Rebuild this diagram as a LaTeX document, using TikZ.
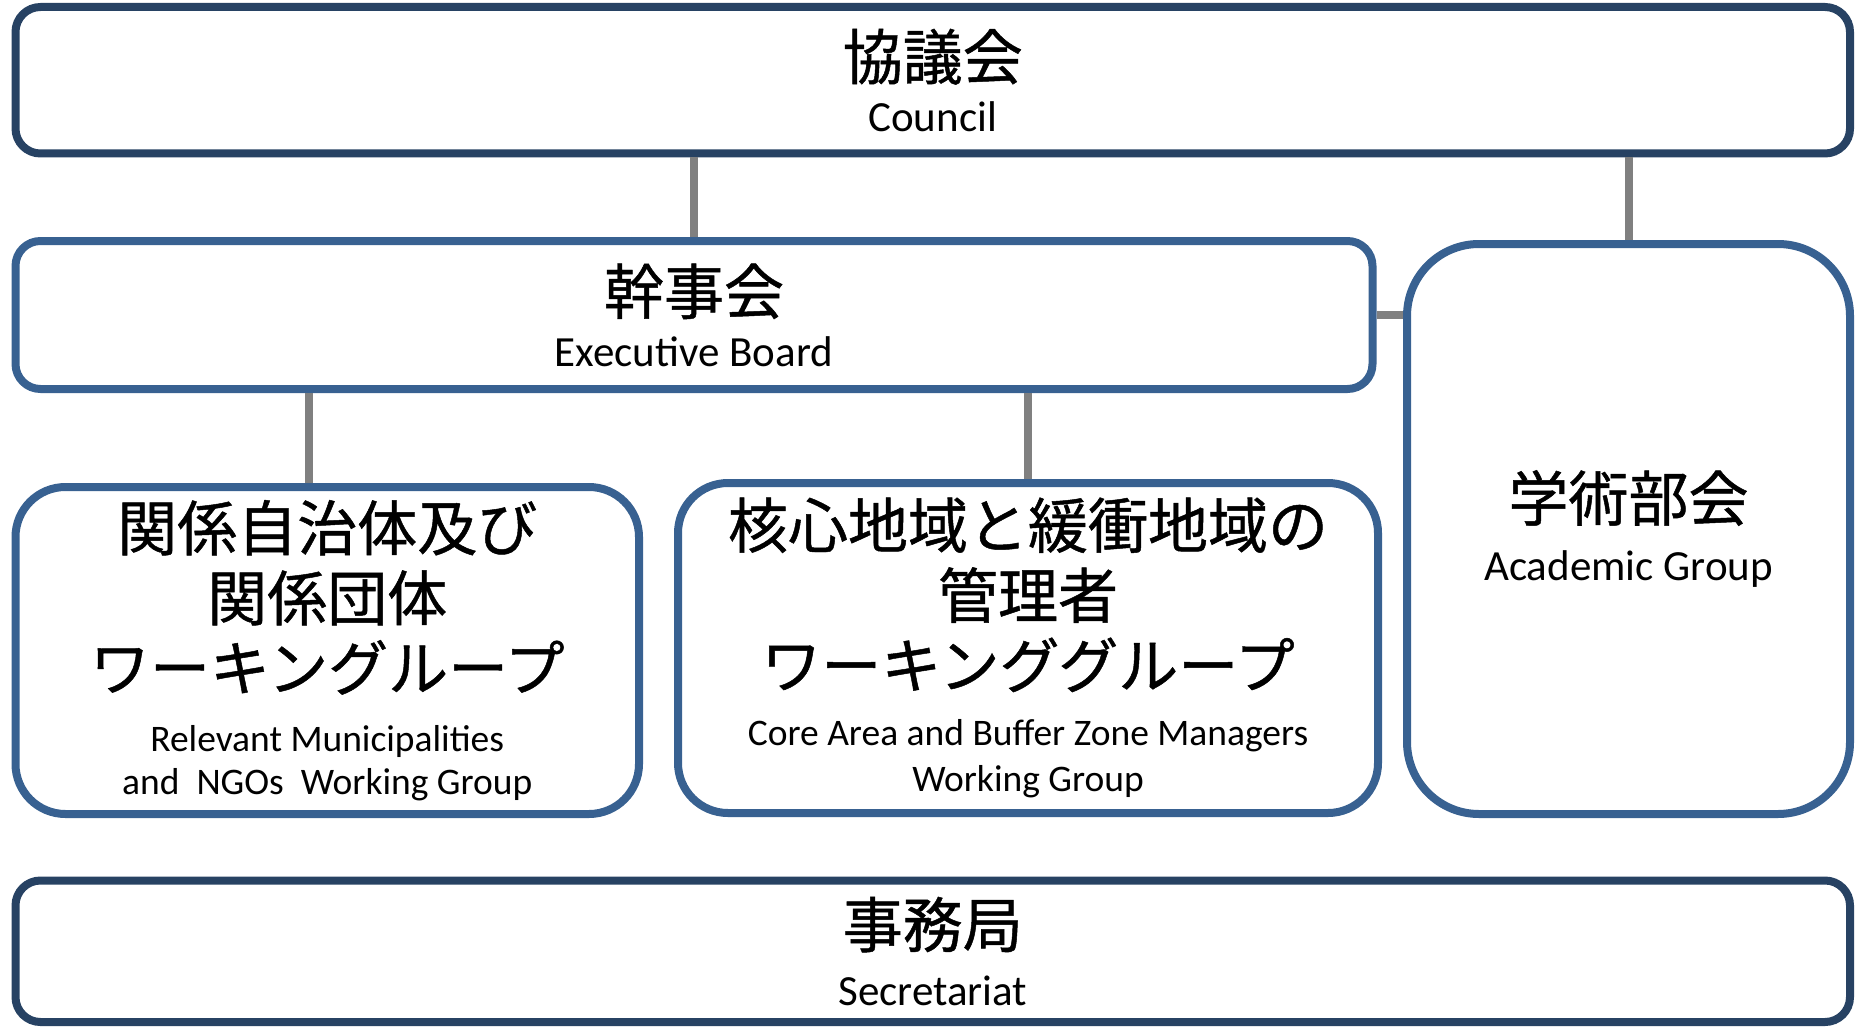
\documentclass[tikz,border=0pt]{standalone}
\usepackage{fontspec}
\setmainfont{Carlito}
\newfontfamily\jpfont[FakeBold=0.8]{Noto Sans CJK JP}
\definecolor{navy}{HTML}{274263}
\definecolor{steel}{HTML}{386191}
\definecolor{wire}{HTML}{808080}
\newcommand{\ja}[1]{{\jpfont #1}}
\newcommand{\en}[1]{{\rmfamily\fontsize{43}{50}\selectfont #1}}
\newcommand{\ens}[1]{{\rmfamily\fontsize{37.5}{44}\selectfont #1}}

\begin{document}
\begin{tikzpicture}[
      x=1pt, y=-1pt, %one unit is one pixel
      every node/.style={align=center, inner sep=0pt, outer sep=0pt, font=\fontsize{60}{70}\selectfont},
      chief/.style={draw=navy, line width=8pt, rounded corners=25pt},
      panel/.style={draw=steel, line width=8pt, rounded corners=#1},
      panel/.default=25pt,
      link/.style={draw=wire, line width=8pt, shorten >=4pt, shorten <=4pt}
    ]
    \useasboundingbox (0,0) rectangle (1857,1027);
    % Draw the council and the secretariat
    \node[chief, minimum width=1834.5pt, minimum height=146.5pt] (council) at (932.75,80.25)
      {\ja{協議会}\\[-18pt]\en{Council}};
    \node[chief, minimum width=1834.5pt, minimum height=141.5pt] (secretariat) at (932.75,951.25)
      {\ja{事務局}\\[-12pt]\en{Secretariat}};
    % Draw the executive board and the academic group
    \node[panel, minimum width=1357pt, minimum height=148pt] (exec) at (694,315)
      {\ja{幹事会}\\[-18pt]\en{Executive Board}};
    \node[panel=72pt, minimum width=443pt, minimum height=570pt] (academic) at (1628.5,529)
      {\ja{学術部会}\\[-10pt]\en{Academic Group}};
    % Draw the working groups
    \node[panel=50pt, minimum width=623.5pt, minimum height=327pt] (leftwg) at (327.25,650.5)
      {\ja{関係自治体及び}\\\ja{関係団体}\\\ja{ワーキングループ}\\[-9pt]
       \ens{Relevant Municipalities}\\[-27pt]\ens{and~~NGOs~~Working Group}};
    \node[panel=50pt, minimum width=700pt, minimum height=330pt] (midwg) at (1028,648)
      {\ja{核心地域と緩衝地域の}\\\ja{管理者}\\\ja{ワーキンググループ}\\[-12pt]
       \ens{Core Area and Buffer Zone Managers}\\[-24pt]\ens{Working Group}};
    % Draw the links
    \draw[link] (council.south -| exec.north) -- (exec.north);
    \draw[link] (council.south -| academic.north) -- (academic.north);
    \draw[link] (exec.east) -- (academic.west |- exec.east);
    \draw[link] (exec.south -| 309,0) -- (leftwg.north -| 309,0);
    \draw[link] (exec.south -| midwg.north) -- (midwg.north);
\end{tikzpicture}
\end{document}
